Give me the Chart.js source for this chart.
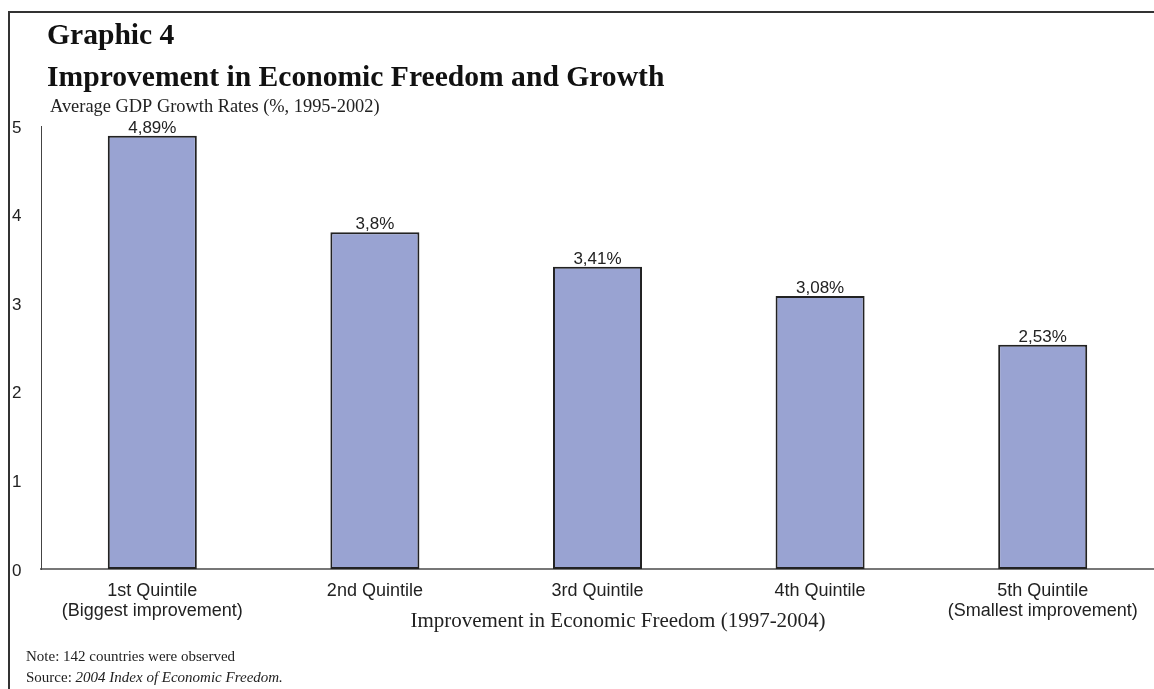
<!DOCTYPE html>
<html>
<head>
<meta charset="utf-8">
<script src="https://cdn.jsdelivr.net/npm/chart.js@4.4.1/dist/chart.umd.min.js"></script>
<style>
html,body{margin:0;padding:0;background:#fff;}
#wrap{position:relative;width:1154px;height:689px;}
canvas{display:block;}
</style>
</head>
<body>
<div id="wrap"><canvas id="c" width="1154" height="689"></canvas></div>
<script>
const categories = [
  ["1st Quintile", "(Biggest improvement)"],
  ["2nd Quintile"],
  ["3rd Quintile"],
  ["4th Quintile"],
  ["5th Quintile", "(Smallest improvement)"]
];
const growthValues = [4.89, 3.8, 3.41, 3.08, 2.53];
const valueLabels = ["4,89%", "3,8%", "3,41%", "3,08%", "2,53%"];
const yTicks = [0, 1, 2, 3, 4, 5];

const titleLine1 = "Graphic 4";
const titleLine2 = "Improvement in Economic Freedom and Growth";
const subtitle = "Average GDP Growth Rates (%, 1995-2002)";
const xTitle = "Improvement in Economic Freedom (1997-2004)";
const noteText = "Note: 142 countries were observed";
const sourceLabel = "Source: ";
const sourceText = "2004 Index of Economic Freedom.";

const decorPlugin = {
  id: 'decor',
  beforeDraw(chart) {
    const ctx = chart.ctx;
    ctx.save();
    ctx.fillStyle = '#fff';
    ctx.fillRect(0, 0, chart.width, chart.height);
    ctx.strokeStyle = '#333';
    ctx.lineWidth = 2;
    ctx.beginPath();
    ctx.moveTo(9, 689);
    ctx.lineTo(9, 12);
    ctx.lineTo(1154, 12);
    ctx.stroke();
    ctx.restore();
  },
  afterDraw(chart) {
    const ctx = chart.ctx;
    ctx.save();
    ctx.fillStyle = '#111';
    ctx.textBaseline = 'alphabetic';
    ctx.textAlign = 'left';
    ctx.font = 'bold 29.6px "Liberation Serif", "Times New Roman", serif';
    ctx.fillText(titleLine1, 47, 44);
    ctx.fillText(titleLine2, 47, 86);
    ctx.font = '18.4px "Liberation Serif", "Times New Roman", serif';
    ctx.fillStyle = '#222';
    ctx.fillText(subtitle, 50, 112);
    ctx.textAlign = 'center';
    ctx.font = '21px "Liberation Serif", "Times New Roman", serif';
    ctx.fillText(xTitle, 618, 627);
    ctx.textAlign = 'left';
    ctx.font = '15px "Liberation Serif", "Times New Roman", serif';
    ctx.fillText(noteText, 26, 661);
    ctx.fillText(sourceLabel, 26, 682);
    const w = ctx.measureText(sourceLabel).width;
    ctx.font = 'italic 15px "Liberation Serif", "Times New Roman", serif';
    ctx.fillText(sourceText, 26 + w, 682);
    const meta = chart.getDatasetMeta(0);
    ctx.textAlign = 'center';
    ctx.font = '17px "Liberation Sans", Arial, sans-serif';
    ctx.fillStyle = '#222';
    meta.data.forEach((bar, i) => {
      ctx.fillText(valueLabels[i], bar.x, bar.y - 3);
    });
    ctx.restore();
  }
};

new Chart(document.getElementById('c'), {
  type: 'bar',
  data: {
    labels: categories,
    datasets: [{
      data: growthValues,
      backgroundColor: '#99a3d2',
      borderColor: '#222',
      borderWidth: 2,
      borderSkipped: false,
      barPercentage: 0.4,
      categoryPercentage: 1.0
    }]
  },
  options: {
    responsive: false,
    animation: false,
    devicePixelRatio: 1,
    layout: { padding: { left: 12, top: 126, right: 0, bottom: 0 } },
    plugins: { legend: { display: false }, tooltip: { enabled: false }, title: { display: false } },
    scales: {
      x: {
        grid: { display: false },
        border: { display: true, color: '#777', width: 2 },
        ticks: {
          color: '#222',
          font: { family: '"Liberation Sans", Arial, sans-serif', size: 18, lineHeight: 1.11 },
          padding: 4,
          maxRotation: 0,
          autoSkip: false
        },
        afterFit(scale) { scale.height = 120; }
      },
      y: {
        min: 0,
        max: 5,
        afterBuildTicks(scale) { scale.ticks = yTicks.map(v => ({ value: v })); },
        grid: { display: false },
        border: { display: true, color: '#444', width: 1 },
        ticks: {
          color: '#222',
          crossAlign: 'far',
          labelOffset: 2,
          font: { family: '"Liberation Sans", Arial, sans-serif', size: 17 },
          callback: v => String(v)
        },
        afterFit(scale) { scale.width = 29; }
      }
    }
  },
  plugins: [decorPlugin]
});
</script>
</body>
</html>
